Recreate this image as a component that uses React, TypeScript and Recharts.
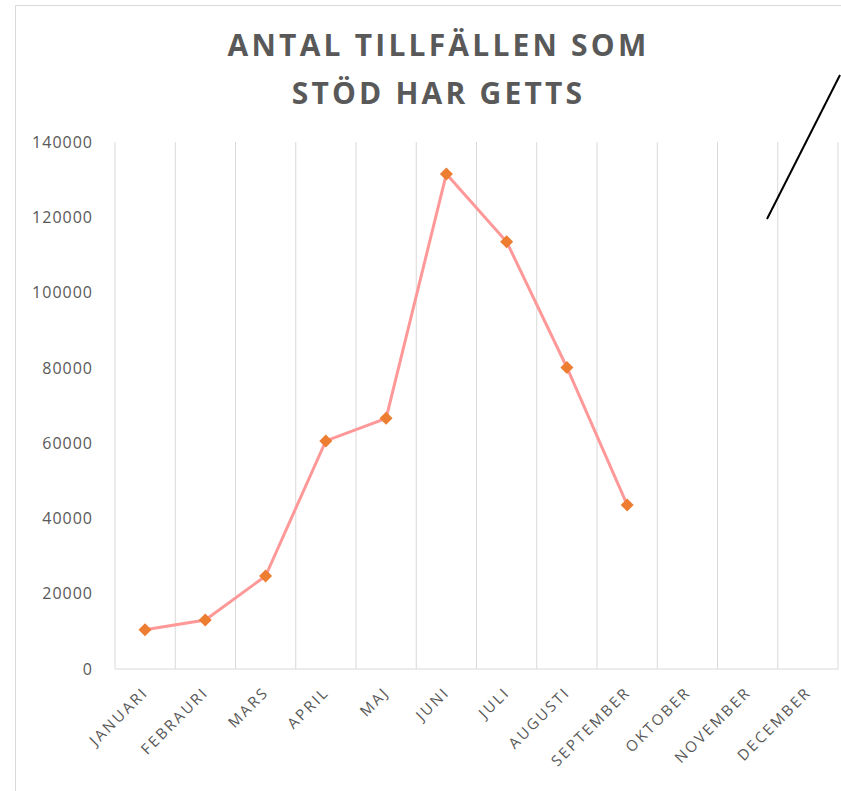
import { LineChart, Line, XAxis, YAxis, CartesianGrid } from "recharts";

const months = [
  "JANUARI", "FEBRAURI", "MARS", "APRIL", "MAJ", "JUNI",
  "JULI", "AUGUSTI", "SEPTEMBER", "OKTOBER", "NOVEMBER", "DECEMBER",
];
const stod: (number | null)[] = [
  10400, 13000, 24700, 60600, 66600, 131500, 113500, 80100, 43600, null, null, null,
];
const yTicks = [0, 20000, 40000, 60000, 80000, 100000, 120000, 140000];

const data = months.map((m, i) => ({ month: m, value: stod[i] }));

const Diamond = (props: any) => {
  const { cx, cy, value } = props;
  if (value == null || cx == null || cy == null) return null;
  const r = 6.5;
  return (
    <polygon
      points={`${cx},${cy - r} ${cx + r},${cy} ${cx},${cy + r} ${cx - r},${cy}`}
      fill="#ed7d31"
    />
  );
};

const MonthTick = (props: any) => {
  const { x, y, payload } = props;
  return (
    <text
      x={x}
      y={y}
      transform={`rotate(-45, ${x}, ${y})`}
      textAnchor="end"
      dominantBaseline="central"
      fill="#595959"
      fontSize={15}
      letterSpacing={2.4}
      fontFamily="'Open Sans', sans-serif"
    >
      {payload.value}
    </text>
  );
};

export default function App() {
  return (
    <div style={{ position: "absolute", left: 0, top: 0, width: 841, height: 791, background: "#fff", overflow: "hidden" }}>
      <div style={{ position: "absolute", left: 15, top: 5, width: 840, height: 800, borderLeft: "1px solid #d9d9d9", borderTop: "1px solid #d9d9d9" }} />
      <div
        style={{
          position: "absolute",
          left: 0,
          width: 877,
          top: 21,
          textAlign: "center",
          fontFamily: "'Open Sans', sans-serif",
          fontWeight: 700,
          fontSize: 30,
          lineHeight: "48px",
          letterSpacing: 3.2,
          color: "#595959",
        }}
      >
        ANTAL TILLFÄLLEN SOM
        <br />
        STÖD HAR GETTS
      </div>
      <LineChart
        width={841}
        height={791}
        data={data}
        margin={{ top: 142, right: 3, bottom: 0, left: 0 }}
        style={{ position: "absolute", left: 0, top: 0 }}
      >
        <CartesianGrid
          horizontal={false}
          stroke="#d9d9d9"
          verticalCoordinatesGenerator={({ offset }: any) =>
            months.map((_, i) => offset.left + (i * offset.width) / months.length).concat(offset.left + offset.width)
          }
        />
        <XAxis
          dataKey="month"
          interval={0}
          height={122}
          padding={{ left: 30, right: 30 }}
          tickLine={false}
          axisLine={{ stroke: "#d9d9d9" }}
          tick={<MonthTick />}
          tickMargin={14}
        />
        <YAxis
          domain={[0, 140000]}
          ticks={yTicks}
          width={115}
          axisLine={false}
          tickLine={false}
          tickMargin={16}
          tick={{ fill: "#595959", fontSize: 16, letterSpacing: 1, fontFamily: "'Open Sans', sans-serif" }}
        />
        <Line
          type="linear"
          dataKey="value"
          stroke="#ff9999"
          strokeWidth={3}
          dot={<Diamond />}
          activeDot={false}
          isAnimationActive={false}
        />
      </LineChart>
      <svg width={841} height={791} style={{ position: "absolute", left: 0, top: 0, pointerEvents: "none" }}>
        <line x1={840} y1={75} x2={767} y2={219} stroke="#000" strokeWidth={2} />
      </svg>
    </div>
  );
}
